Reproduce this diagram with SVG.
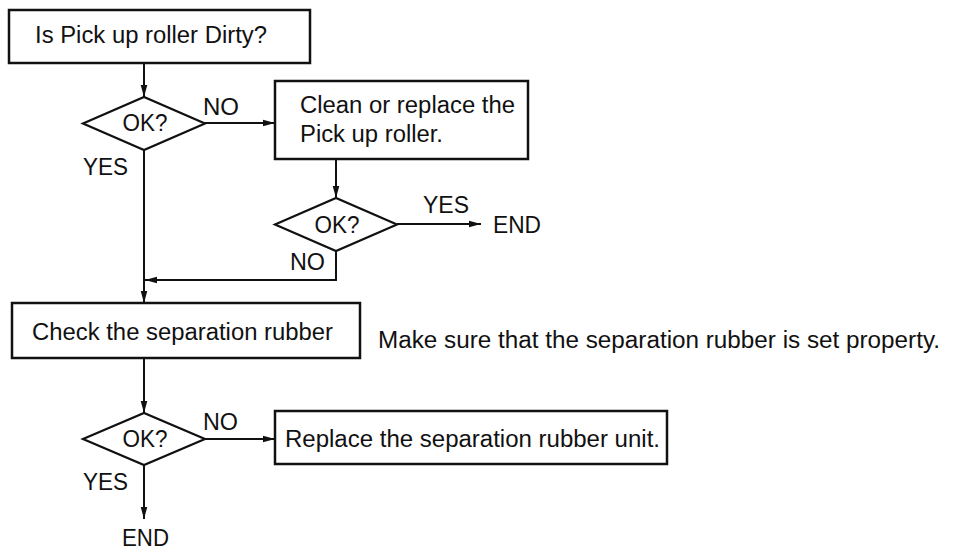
<svg xmlns="http://www.w3.org/2000/svg" width="957" height="551" viewBox="0 0 957 551">
<style>
  .box { fill: #fff; stroke: #111; stroke-width: 2.5; }
  .dia { fill: #fff; stroke: #111; stroke-width: 2.2; stroke-linejoin: miter; }
  .ln { fill: none; stroke: #111; stroke-width: 2; }
  text { font-family: "Liberation Sans", Arial, Helvetica, sans-serif; font-size: 23px; fill: #111; }
  .c { text-anchor: middle; }
</style>
<defs>
  <marker id="ah" markerUnits="userSpaceOnUse" markerWidth="13" markerHeight="8" refX="12" refY="4" orient="auto">
    <path d="M0,0.7 L12,4 L0,7.3 z" fill="#111"/>
  </marker>
</defs>
<rect width="957" height="551" fill="#fff"/>

<g id="connectors">
  <path class="ln" d="M144,63 V97" marker-end="url(#ah)"/>
  <path class="ln" d="M205,123 H275" marker-end="url(#ah)"/>
  <path class="ln" d="M336,159 V198" marker-end="url(#ah)"/>
  <path class="ln" d="M397,224 H481" marker-end="url(#ah)"/>
  <path class="ln" d="M336,251 V280 H145" marker-end="url(#ah)"/>
  <path class="ln" d="M144,150 V303" marker-end="url(#ah)"/>
  <path class="ln" d="M144,358 V413" marker-end="url(#ah)"/>
  <path class="ln" d="M205,439 H275" marker-end="url(#ah)"/>
  <path class="ln" d="M144,465 V519" marker-end="url(#ah)"/>
</g>

<g id="start">
  <rect class="box" x="9" y="10" width="301" height="53"/>
  <text x="35" y="43" textLength="232" lengthAdjust="spacingAndGlyphs">Is Pick up roller Dirty?</text>
</g>

<g id="decision1">
  <polygon class="dia" points="83,123.5 144,97 205,123.5 144,150"/>
  <text class="c" x="145" y="131" textLength="45" lengthAdjust="spacingAndGlyphs">OK?</text>
  <text x="203" y="115" textLength="36" lengthAdjust="spacingAndGlyphs">NO</text>
  <text x="83" y="175" textLength="45" lengthAdjust="spacingAndGlyphs">YES</text>
</g>

<g id="clean">
  <rect class="box" x="275" y="81" width="253" height="78"/>
  <text x="300" y="113" textLength="215" lengthAdjust="spacingAndGlyphs">Clean or replace the</text>
  <text x="300" y="142" textLength="143" lengthAdjust="spacingAndGlyphs">Pick up roller.</text>
</g>

<g id="decision2">
  <polygon class="dia" points="275,224.5 336,198 397,224.5 336,251"/>
  <text class="c" x="337" y="233" textLength="45" lengthAdjust="spacingAndGlyphs">OK?</text>
  <text x="423" y="213" textLength="46" lengthAdjust="spacingAndGlyphs">YES</text>
  <text x="290" y="270" textLength="35" lengthAdjust="spacingAndGlyphs">NO</text>
</g>

<g id="end1">
  <text x="493" y="233" textLength="48" lengthAdjust="spacingAndGlyphs">END</text>
</g>

<g id="check">
  <rect class="box" x="12" y="303" width="348" height="55"/>
  <text x="32" y="340" textLength="301" lengthAdjust="spacingAndGlyphs">Check the separation rubber</text>
</g>

<g id="note">
  <text x="378" y="348" textLength="562" lengthAdjust="spacingAndGlyphs">Make sure that the separation rubber is set property.</text>
</g>

<g id="decision3">
  <polygon class="dia" points="83,439 144,413 205,439 144,465"/>
  <text class="c" x="145" y="447" textLength="45" lengthAdjust="spacingAndGlyphs">OK?</text>
  <text x="203" y="430" textLength="35" lengthAdjust="spacingAndGlyphs">NO</text>
  <text x="83" y="490" textLength="45" lengthAdjust="spacingAndGlyphs">YES</text>
</g>

<g id="replace">
  <rect class="box" x="275" y="411" width="392" height="53"/>
  <text x="285" y="447" textLength="375" lengthAdjust="spacingAndGlyphs">Replace the separation rubber unit.</text>
</g>

<g id="end2">
  <text x="122" y="546" textLength="47" lengthAdjust="spacingAndGlyphs">END</text>
</g>
</svg>
